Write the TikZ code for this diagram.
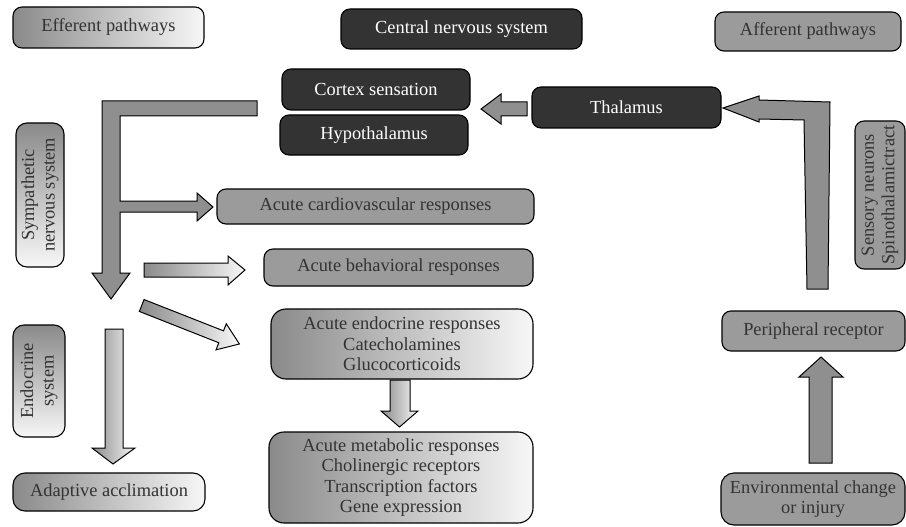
\documentclass[tikz,border=0pt]{standalone}
\usepackage{fontspec}
\setmainfont{Liberation Serif}
\definecolor{boxdark}{HTML}{333333}
\definecolor{boxgray}{HTML}{9B9B9B}
\definecolor{arrowgray}{HTML}{8F8F8F}
\definecolor{textgray}{HTML}{333333}
\definecolor{shadeL}{HTML}{8A8A8A}
\definecolor{shadeR}{HTML}{F7F7F7}
\tikzset{
  box/.style={draw=black, line width=1.1pt, rounded corners=9pt, inner sep=0pt,
    align=center, font=\fontsize{18.4}{20.5}\selectfont},
  darkbox/.style={box, fill=boxdark, text=white},
  graybox/.style={box, fill=boxgray, text=textgray},
  shadebox/.style={box, left color=shadeL, right color=shadeR, text=textgray},
  vshadebox/.style={box, top color=shadeL, bottom color=shadeR, text=textgray},
  blockarrow/.style={draw=black, line width=1pt, fill=arrowgray, line join=miter},
  shadearrow/.style={draw=black, line width=1pt, left color=shadeL, right color=shadeR, line join=miter}
}
\begin{document}
\begin{tikzpicture}[x=1pt, y=-1pt]
  \useasboundingbox (0,0) rectangle (906,527);
  \node[shadebox, minimum width=191pt, minimum height=41pt] (efferent) at (108.5,27.5) {Efferent pathways};
  \node[darkbox, minimum width=241pt, minimum height=40pt] (cns) at (461.5,29) {Central nervous system};
  \node[graybox, minimum width=186pt, minimum height=39pt] (afferent) at (808,31.5) {Afferent pathways};
  \node[darkbox, minimum width=188pt, minimum height=41pt] (cortex) at (376,89.5) {Cortex sensation};
  \node[darkbox, minimum width=188pt, minimum height=40pt] (hypo) at (374,135) {Hypothalamus};
  \node[darkbox, minimum width=189pt, minimum height=41pt] (thal) at (626.5,107.5) {Thalamus};
  \node[graybox, rotate=90, minimum width=148pt, minimum height=50pt] (sensory) at (880,195) {Sensory neurons\\Spinothalamictract};
  \node[graybox, minimum width=183pt, minimum height=40pt] (periph) at (813.5,331) {Peripheral receptor};
  \node[graybox, rounded corners=13pt, minimum width=184pt, minimum height=52pt] (env) at (813,499) {Environmental change\\or injury};
  \node[vshadebox, rotate=90, rounded corners=11pt, minimum width=144pt, minimum height=48pt] (symp) at (40,195) {Sympathetic\\nervous system};
  \node[vshadebox, rotate=90, rounded corners=11pt, minimum width=112pt, minimum height=52pt] (endosys) at (39,381) {Endocrine\\system};
  \node[shadebox, rounded corners=12pt, minimum width=192pt, minimum height=38pt] (adapt) at (109,492) {Adaptive acclimation};
  \node[graybox, minimum width=317pt, minimum height=35pt] (cardio) at (375.5,206.5) {Acute cardiovascular responses};
  \node[graybox, minimum width=269pt, minimum height=37pt] (behav) at (398.5,267.5) {Acute behavioral responses};
  \node[shadebox, rounded corners=15pt, minimum width=262pt, minimum height=70pt] (endoresp) at (402,344) {Acute endocrine responses\\Catecholamines\\Glucocorticoids};
  \node[shadebox, rounded corners=15pt, minimum width=264pt, minimum height=91pt] (metab) at (401,477.5) {Acute metabolic responses\\Cholinergic receptors\\Transcription factors\\Gene expression};
  \draw[blockarrow] (527,102) -- (501,102) -- (501,94) -- (481,109) -- (501,124) -- (501,116) -- (527,116) -- cycle;
  \draw[blockarrow] (828,289) -- (830,102) -- (759,100) -- (759,96) -- (723,108) -- (759,122) -- (759,119) -- (804,120) -- (807,289) -- cycle;
  \draw[blockarrow] (809,463) -- (809,377) -- (799,377) -- (821,357) -- (843,377) -- (832,377) -- (832,463) -- cycle;
  \draw[blockarrow] (257,101) -- (102,101) -- (102,273) -- (92,273) -- (111,299) -- (130,273) -- (120,273)
    -- (120,212) -- (197,212) -- (197,221) -- (213,207) -- (197,193) -- (197,201) -- (120,201)
    -- (120,116) -- (257,116) -- cycle;
  \draw[shadearrow] (144,263) -- (228,263) -- (228,256) -- (245,270) -- (228,285) -- (228,277) -- (144,277) -- cycle;
  \draw[shadearrow, shift={(141.7,305.5)}, rotate=-21.5] (0,-6.4) -- (85.4,-6.4) -- (85.4,-14) -- (105,0) -- (85.4,14) -- (85.4,6.4) -- (0,6.4) -- cycle;
  \draw[shadearrow] (390,380) -- (410,380) -- (410,411) -- (418,411) -- (399.5,427) -- (381,411) -- (390,411) -- cycle;
  \draw[shadearrow] (105,329) -- (123,329) -- (123,448) -- (135,448) -- (113,464) -- (92,448) -- (105,448) -- cycle;
\end{tikzpicture}
\end{document}
